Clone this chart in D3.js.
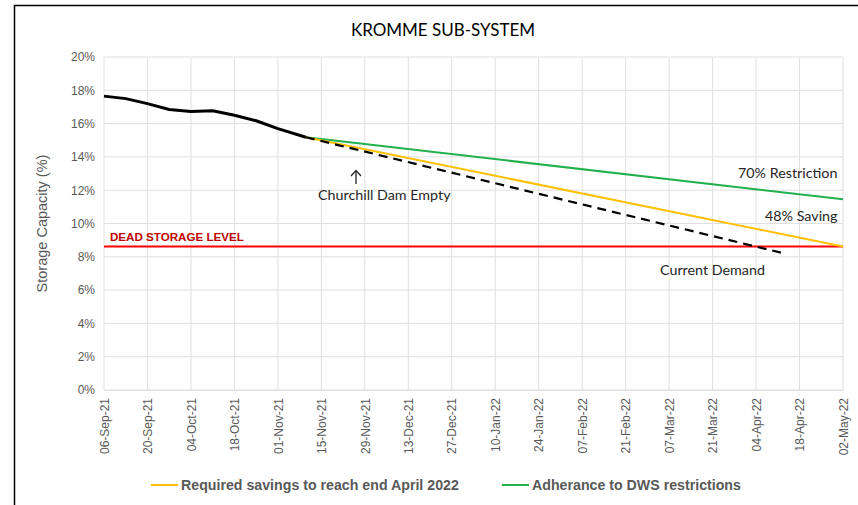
<!DOCTYPE html>
<html><head><meta charset="utf-8">
<script src="https://cdn.jsdelivr.net/npm/d3@7"></script>
<style>body{margin:0;background:#fff;}svg{display:block;}</style>
</head><body>
<svg id="c" width="858" height="505"></svg>
<script>
const title = "KROMME SUB-SYSTEM";
const yTicks = [0,2,4,6,8,10,12,14,16,18,20];
const xTickDates = ["2021-09-06","2021-09-20","2021-10-04","2021-10-18","2021-11-01","2021-11-15","2021-11-29","2021-12-13","2021-12-27","2022-01-10","2022-01-24","2022-02-07","2022-02-21","2022-03-07","2022-03-21","2022-04-04","2022-04-18","2022-05-02"];
const actualDates = ["2021-09-06","2021-09-13","2021-09-20","2021-09-27","2021-10-04","2021-10-11","2021-10-18","2021-10-25","2021-11-01","2021-11-10"];
const actualValues = [17.65,17.5,17.2,16.85,16.73,16.77,16.5,16.17,15.7,15.18];
const savingsDates = ["2021-11-10","2022-05-02"];
const savingsValues = [15.18,8.62];
const restrictionDates = ["2021-11-10","2022-05-02"];
const restrictionValues = [15.18,11.45];
const demandDates = ["2021-11-10","2022-04-12"];
const demandValues = [15.18,8.25];
const deadStorage = 8.62;
const legendLabels = ["Required savings to reach end April 2022","Adherance to DWS restrictions"];

const parse = d3.timeParse("%Y-%m-%d");
const fmt = d3.timeFormat("%d-%b-%y");
const svg = d3.select("#c");
const M = {l:104, r:843, t:57, b:390};

// outer border
svg.append("path").attr("d","M14.5,505 L14.5,5.5 L858,5.5").attr("fill","none").attr("stroke","#000").attr("stroke-width",1.5);

const x = d3.scaleTime().domain([parse(xTickDates[0]), parse(xTickDates[xTickDates.length-1])]).range([M.l, M.r]);
const y = d3.scaleLinear().domain([0,20]).range([M.b, M.t]);

// gridlines
const grid = svg.append("g");
grid.selectAll("line.h").data(yTicks).join("line")
  .attr("x1",M.l).attr("x2",M.r).attr("y1",d=>y(d)).attr("y2",d=>y(d))
  .attr("stroke","#e0e0e0").attr("stroke-width",1);
grid.selectAll("line.v").data(xTickDates).join("line")
  .attr("x1",d=>x(parse(d))).attr("x2",d=>x(parse(d))).attr("y1",M.t).attr("y2",M.b)
  .attr("stroke","#e0e0e0").attr("stroke-width",1);

// y axis
const yAxis = d3.axisLeft(y).tickValues(yTicks).tickFormat(d=>d+"%").tickSize(0).tickPadding(9);
const gy = svg.append("g").attr("transform",`translate(${M.l},0)`).call(yAxis);
gy.select(".domain").remove();
gy.selectAll("text").attr("font-family","Liberation Sans, Arial, sans-serif").attr("font-size",12).attr("fill","#595959");

// x axis
const xAxis = d3.axisBottom(x).tickValues(xTickDates.map(parse)).tickFormat(fmt).tickSize(0);
const gx = svg.append("g").attr("transform",`translate(0,${M.b})`).call(xAxis);
gx.select(".domain").attr("stroke","#e0e0e0");
gx.selectAll("text").attr("font-family","Liberation Sans, Arial, sans-serif").attr("font-size",12).attr("fill","#595959")
  .attr("transform","rotate(-90)").attr("text-anchor","end").attr("dy","0.35em").attr("x",-8).attr("y",0);

// y label
svg.append("text").attr("transform",`translate(47,${(M.t+M.b)/2}) rotate(-90)`)
  .attr("text-anchor","middle").attr("font-family","Liberation Sans, Arial, sans-serif").attr("font-size",14.5).attr("fill","#595959")
  .text("Storage Capacity (%)");

// title
svg.append("text").attr("x",443).attr("y",36).attr("text-anchor","middle")
  .attr("font-family","Lato, 'Open Sans', sans-serif").attr("font-size",17).attr("fill","#000").text(title);

// dead storage
svg.append("line").attr("x1",M.l).attr("x2",M.r).attr("y1",y(deadStorage)).attr("y2",y(deadStorage))
  .attr("stroke","#ff0000").attr("stroke-width",2);
svg.append("text").attr("x",110).attr("y",y(deadStorage)-5).attr("font-family","Liberation Sans, Arial, sans-serif")
  .attr("font-weight","bold").attr("font-size",11.6).attr("fill","#c00000").text("DEAD STORAGE LEVEL");

const line = d3.line().x(d=>x(d[0])).y(d=>y(d[1]));
const zip = (ds,vs)=>ds.map((d,i)=>[parse(d),vs[i]]);

svg.append("path").datum(zip(restrictionDates,restrictionValues)).attr("d",line)
  .attr("fill","none").attr("stroke-width",2).attr("stroke","#22b14c");
svg.append("path").datum(zip(savingsDates,savingsValues)).attr("d",line)
  .attr("fill","none").attr("stroke","#ffc000").attr("stroke-width",2);
svg.append("path").datum(zip(demandDates,demandValues)).attr("d",line)
  .attr("fill","none").attr("stroke","#000").attr("stroke-width",2.2).attr("stroke-dasharray","9,6");
svg.append("path").datum(zip(actualDates,actualValues)).attr("d",line)
  .attr("fill","none").attr("stroke","#000").attr("stroke-width",3).attr("stroke-linejoin","round");

// annotations
const af = "Lato, 'Open Sans', sans-serif";
function ann(t,xx,yy){svg.append("text").attr("x",xx).attr("y",yy).attr("font-family",af).attr("font-size",14.3).attr("fill","#262626").text(t);}
ann("Churchill Dam Empty",318,200);
ann("70% Restriction",738,178);
ann("48% Saving",765,221);
ann("Current Demand",660,275);
// arrow
svg.append("line").attr("x1",356).attr("x2",356).attr("y1",184).attr("y2",171).attr("stroke","#262626").attr("stroke-width",1.3);
svg.append("path").attr("d","M351,176 L356,170.5 L361,176").attr("fill","none").attr("stroke","#262626").attr("stroke-width",1.3);

// legend
const lg = svg.append("g");
const leg = [{x:151,c:"#ffc000",t:legendLabels[0]},{x:502,c:"#22b14c",t:legendLabels[1]}];
leg.forEach(l=>{
  lg.append("line").attr("x1",l.x).attr("x2",l.x+27).attr("y1",485).attr("y2",485).attr("stroke",l.c).attr("stroke-width",2);
  lg.append("text").attr("x",l.x+30).attr("y",490).attr("font-family","Liberation Sans, Arial, sans-serif")
    .attr("font-weight","bold").attr("font-size",14.2).attr("fill","#595959").text(l.t);
});
</script>
</body></html>
